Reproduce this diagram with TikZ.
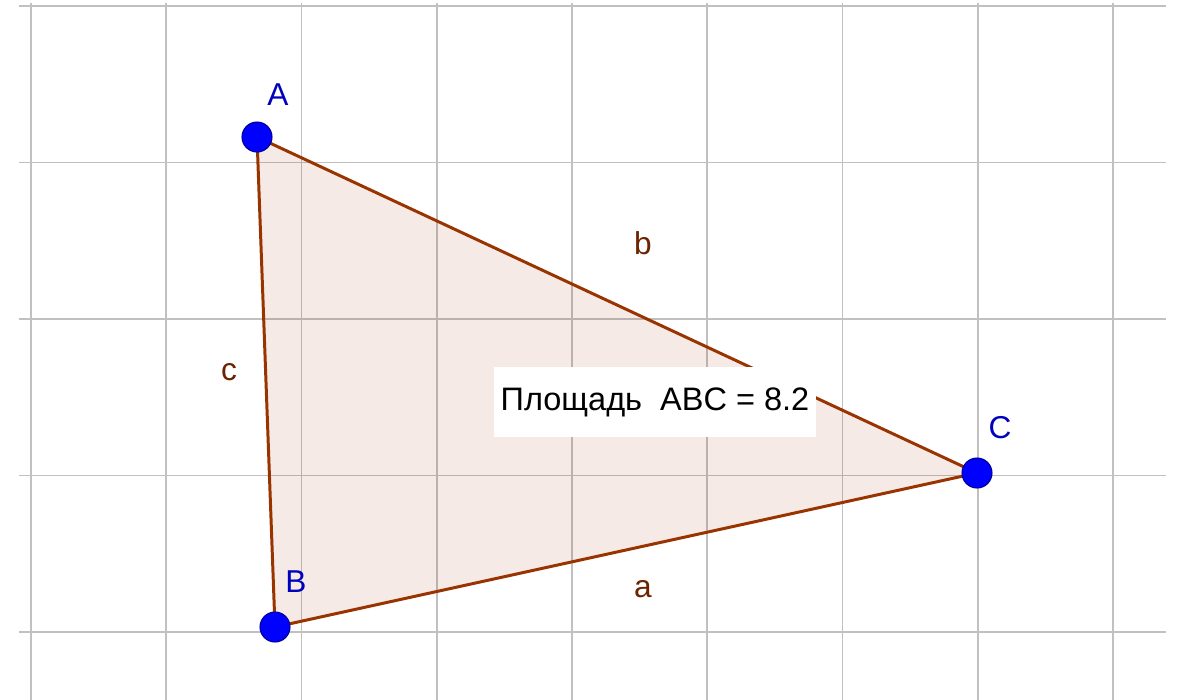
\documentclass[tikz,border=0pt]{standalone}
\usepackage{fontspec}
\setmainfont{Liberation Sans}
\usetikzlibrary{backgrounds}
\definecolor{sidebrown}{RGB}{153,51,0}
\definecolor{gridgray}{RGB}{192,192,192}
\definecolor{ptblue}{RGB}{0,0,255}
\tikzset{
  vertex/.style={circle,draw=ptblue!60!black,fill=ptblue,line width=0.6pt,minimum size=0.6cm,inner sep=0pt},
  vlabel/.style={text=ptblue!75!black,font=\fontsize{18}{20}\selectfont,inner sep=0pt},
  slabel/.style={text=sidebrown!70!black,font=\fontsize{18}{20}\selectfont,inner sep=0pt},
  side/.style={draw=sidebrown,line width=1.7pt},
  gridline/.style={draw=gridgray,line width=1.1pt},
  areabox/.style={fill=white,minimum width=6.46cm,minimum height=1.4cm,inner sep=0pt,font=\fontsize{18.5}{20}\selectfont}
}
\begin{document}
\begin{tikzpicture}[x=0.02cm,y=-0.02cm]
\useasboundingbox (0,0) rectangle (1178,700);
\node[vertex] (A) at (257,137) {}; \node[vertex] (B) at (275,627) {}; \node[vertex] (C) at (977,473) {};
\node[vlabel] (lA) at (278,95) {A}; \node[vlabel] (lB) at (296,582) {B}; \node[vlabel] (lC) at (1000,428) {C};
\node[slabel] (la) at (643,589) {a}; \node[slabel] (lb) at (643,243) {b}; \node[slabel] (lc) at (229,372) {c};
\begin{scope}[on background layer]
\foreach \i in {0,...,8} \draw[gridline] ({31+135.25*\i},3) -- ({31+135.25*\i},700);
\foreach \j in {0,...,4} \draw[gridline] (19,{6+156.5*\j}) -- (1166,{6+156.5*\j});
\fill[sidebrown,fill opacity=0.1] (A.center) -- (B.center) -- (C.center) -- cycle;
\draw[side] (B.center) -- (C.center); \draw[side] (C.center) -- (A.center); \draw[side] (A.center) -- (B.center);
\end{scope}
\node[areabox] (area) at (655,402) {Площадь\ \ ABC = 8.2};
\end{tikzpicture}
\end{document}
